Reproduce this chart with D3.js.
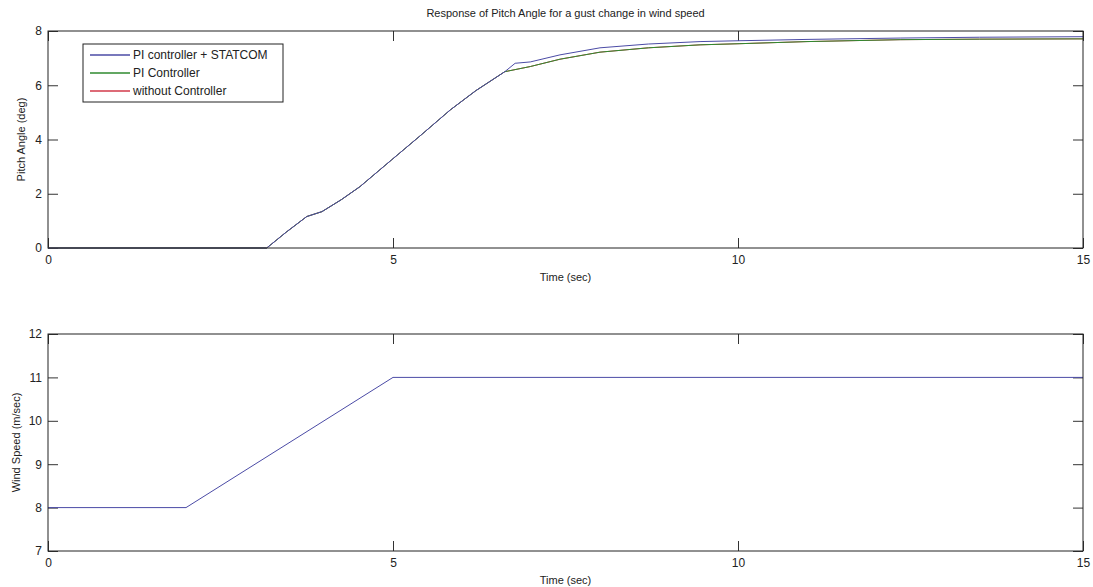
<!DOCTYPE html>
<html>
<head>
<meta charset="utf-8">
<script src="https://cdn.jsdelivr.net/npm/d3@7"></script>
<style>
  html, body { margin: 0; padding: 0; background: #fff; }
  svg { display: block; }
  text { font-family: "Liberation Sans", Arial, sans-serif; fill: #222; }
</style>
</head>
<body>
<svg id="chart" width="1093" height="587"></svg>
<script>
// Time samples and pitch responses (deg)
const timeStatcom = [0, 3.17, 3.45, 3.75, 3.97, 4.25, 4.52, 4.98, 5.4, 5.83, 6.2, 6.62, 6.77, 6.99, 7.42, 8.0, 8.7, 9.45, 10.0, 11.0, 12.35, 13.5, 15];
const pitchStatcom = [0, 0, 0.58, 1.16, 1.34, 1.78, 2.26, 3.25, 4.15, 5.09, 5.8, 6.5, 6.81, 6.86, 7.12, 7.38, 7.52, 7.61, 7.64, 7.69, 7.74, 7.77, 7.79];
const timePI = [0, 3.17, 3.45, 3.75, 3.97, 4.25, 4.52, 4.98, 5.4, 5.83, 6.2, 6.62, 6.99, 7.42, 8.0, 8.7, 9.45, 10.0, 11.0, 12.35, 13.5, 15];
const pitchPI = [0, 0, 0.58, 1.16, 1.34, 1.78, 2.26, 3.25, 4.15, 5.09, 5.8, 6.5, 6.69, 6.96, 7.22, 7.38, 7.49, 7.53, 7.61, 7.68, 7.7, 7.71];
const pitchNoCtrl = pitchPI;

// Gust profile (m/sec)
const timeWind = [0, 2, 5, 15];
const windSpeed = [8, 8, 11, 11];

const xTicks = [0, 5, 10, 15];
const pitchTicks = [0, 2, 4, 6, 8];
const windTicks = [7, 8, 9, 10, 11, 12];
const legendLabels = ["PI controller + STATCOM", "PI Controller", "without Controller"];
const seriesColors = ["#4b4ba6", "#2f8a2f", "#d23a4a"];

const svg = d3.select("#chart");
const left = 48, right = 1083;
const tickLen = 10;

function panel(top, bottom, yDomain, yTicks, yLabel, yLabelOffset) {
  const x = d3.scaleLinear().domain([0, 15]).range([left, right]);
  const y = d3.scaleLinear().domain(yDomain).range([bottom, top]);
  const g = svg.append("g");

  // inward ticks on all four sides
  g.append("g").attr("transform", `translate(0,${bottom})`)
    .call(d3.axisBottom(x).tickValues(xTicks).tickFormat(d3.format("d"))
      .tickSizeInner(-tickLen).tickSizeOuter(0).tickPadding(7));
  g.append("g").attr("transform", `translate(0,${top})`)
    .call(d3.axisTop(x).tickValues(xTicks).tickSizeInner(-tickLen).tickSizeOuter(0).tickFormat(""));
  g.append("g").attr("transform", `translate(${left},0)`)
    .call(d3.axisLeft(y).tickValues(yTicks).tickFormat(d3.format("d"))
      .tickSizeInner(-tickLen).tickSizeOuter(0).tickPadding(6));
  g.append("g").attr("transform", `translate(${right},0)`)
    .call(d3.axisRight(y).tickValues(yTicks).tickSizeInner(-tickLen).tickSizeOuter(0).tickFormat(""));
  g.selectAll(".domain").remove();
  g.selectAll(".tick line").attr("stroke", "#333");
  g.selectAll(".tick text").attr("font-size", 12).attr("fill", "#222")
    .style("font-family", "Liberation Sans, Arial, sans-serif");

  g.append("text").attr("x", (left + right) / 2).attr("y", bottom + 33)
    .attr("text-anchor", "middle").attr("font-size", 11).text("Time (sec)");
  g.append("text")
    .attr("transform", `translate(${left - yLabelOffset},${(top + bottom) / 2}) rotate(-90)`)
    .attr("text-anchor", "middle").attr("font-size", 11).text(yLabel);

  const plot = g.append("g");
  // frame drawn over the curves
  const frame = () => g.append("rect").attr("x", left).attr("y", top)
    .attr("width", right - left).attr("height", bottom - top)
    .attr("fill", "none").attr("stroke", "#222").attr("stroke-width", 1);
  return { x, y, g, plot, frame };
}

// Upper panel: pitch angle
const p1 = panel(31, 248, [0, 8], pitchTicks, "Pitch Angle (deg)", 23);
const line1 = (ts, vs) => d3.line().x((d, i) => p1.x(ts[i])).y(d => p1.y(d))(vs);
p1.plot.append("path").attr("d", line1(timePI, pitchNoCtrl)).attr("fill", "none").attr("stroke", seriesColors[2]).attr("stroke-width", 1);
p1.plot.append("path").attr("d", line1(timePI, pitchPI)).attr("fill", "none").attr("stroke", seriesColors[1]).attr("stroke-width", 1);
p1.plot.append("path").attr("d", line1(timeStatcom, pitchStatcom)).attr("fill", "none").attr("stroke", seriesColors[0]).attr("stroke-width", 1);
p1.frame();

svg.append("text").attr("x", (left + right) / 2).attr("y", 17)
  .attr("text-anchor", "middle").attr("font-size", 11)
  .text("Response of Pitch Angle for a gust change in wind speed");

// Legend
const lg = svg.append("g");
lg.append("rect").attr("x", 83).attr("y", 44).attr("width", 200).attr("height", 58)
  .attr("fill", "#fff").attr("stroke", "#222").attr("stroke-width", 1);
legendLabels.forEach((lab, i) => {
  const yy = 55 + i * 18;
  lg.append("line").attr("x1", 90).attr("x2", 130).attr("y1", yy).attr("y2", yy)
    .attr("stroke", seriesColors[i]).attr("stroke-width", 1.3);
  lg.append("text").attr("x", 133).attr("y", yy + 4).attr("font-size", 12).text(lab);
});

// Lower panel: wind speed
const p2 = panel(334, 551, [7, 12], windTicks, "Wind Speed (m/sec)", 28);
p2.plot.append("path")
  .attr("d", d3.line().x((d, i) => p2.x(timeWind[i])).y(d => p2.y(d))(windSpeed))
  .attr("fill", "none").attr("stroke", seriesColors[0]).attr("stroke-width", 1);
p2.frame();
</script>
</body>
</html>
